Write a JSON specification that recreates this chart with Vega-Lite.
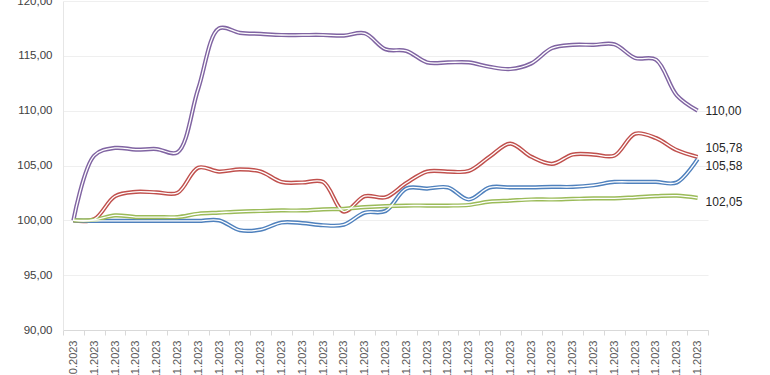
{
  "$schema": "https://vega.github.io/schema/vega-lite/v6.json",
  "width": 645,
  "height": 329,
  "autosize": {"type": "none"},
  "padding": {"left": 63, "top": 1, "right": 62, "bottom": 45},
  "background": "white",
  "config": {
    "locale": {"number": {"decimal": ",", "thousands": ".", "grouping": [3], "currency": ["", " €"]}},
    "view": {"stroke": null},
    "font": "Liberation Sans"
  },
  "datasets": {
    "d": [
      {"t": "31.10.2023", "s": "P", "v": 100.0}, {"t": "31.10.2023", "s": "R", "v": 100.0}, {"t": "31.10.2023", "s": "B", "v": 100.0}, {"t": "31.10.2023", "s": "G", "v": 100.0},
      {"t": "01.11.2023", "s": "P", "v": 105.9}, {"t": "01.11.2023", "s": "R", "v": 100.1}, {"t": "01.11.2023", "s": "B", "v": 99.95}, {"t": "01.11.2023", "s": "G", "v": 100.05},
      {"t": "02.11.2023", "s": "P", "v": 106.6}, {"t": "02.11.2023", "s": "R", "v": 102.2}, {"t": "02.11.2023", "s": "B", "v": 99.95}, {"t": "02.11.2023", "s": "G", "v": 100.45},
      {"t": "03.11.2023", "s": "P", "v": 106.45}, {"t": "03.11.2023", "s": "R", "v": 102.6}, {"t": "03.11.2023", "s": "B", "v": 99.95}, {"t": "03.11.2023", "s": "G", "v": 100.3},
      {"t": "04.11.2023", "s": "P", "v": 106.5}, {"t": "04.11.2023", "s": "R", "v": 102.55}, {"t": "04.11.2023", "s": "B", "v": 99.95}, {"t": "04.11.2023", "s": "G", "v": 100.3},
      {"t": "05.11.2023", "s": "P", "v": 106.2}, {"t": "05.11.2023", "s": "R", "v": 102.5}, {"t": "05.11.2023", "s": "B", "v": 99.95}, {"t": "05.11.2023", "s": "G", "v": 100.3},
      {"t": "06.11.2023", "s": "P", "v": 112.0}, {"t": "06.11.2023", "s": "R", "v": 104.8}, {"t": "06.11.2023", "s": "B", "v": 99.95}, {"t": "06.11.2023", "s": "G", "v": 100.6},
      {"t": "07.11.2023", "s": "P", "v": 117.5}, {"t": "07.11.2023", "s": "R", "v": 104.45}, {"t": "07.11.2023", "s": "B", "v": 100.0}, {"t": "07.11.2023", "s": "G", "v": 100.7},
      {"t": "08.11.2023", "s": "P", "v": 117.1}, {"t": "08.11.2023", "s": "R", "v": 104.65}, {"t": "08.11.2023", "s": "B", "v": 99.1}, {"t": "08.11.2023", "s": "G", "v": 100.8},
      {"t": "09.11.2023", "s": "P", "v": 117.0}, {"t": "09.11.2023", "s": "R", "v": 104.45}, {"t": "09.11.2023", "s": "B", "v": 99.15}, {"t": "09.11.2023", "s": "G", "v": 100.85},
      {"t": "10.11.2023", "s": "P", "v": 116.9}, {"t": "10.11.2023", "s": "R", "v": 103.5}, {"t": "10.11.2023", "s": "B", "v": 99.8}, {"t": "10.11.2023", "s": "G", "v": 100.9},
      {"t": "11.11.2023", "s": "P", "v": 116.9}, {"t": "11.11.2023", "s": "R", "v": 103.45}, {"t": "11.11.2023", "s": "B", "v": 99.75}, {"t": "11.11.2023", "s": "G", "v": 100.9},
      {"t": "12.11.2023", "s": "P", "v": 116.9}, {"t": "12.11.2023", "s": "R", "v": 103.5}, {"t": "12.11.2023", "s": "B", "v": 99.55}, {"t": "12.11.2023", "s": "G", "v": 101.0},
      {"t": "13.11.2023", "s": "P", "v": 116.85}, {"t": "13.11.2023", "s": "R", "v": 100.8}, {"t": "13.11.2023", "s": "B", "v": 99.6}, {"t": "13.11.2023", "s": "G", "v": 101.05},
      {"t": "14.11.2023", "s": "P", "v": 117.05}, {"t": "14.11.2023", "s": "R", "v": 102.2}, {"t": "14.11.2023", "s": "B", "v": 100.7}, {"t": "14.11.2023", "s": "G", "v": 101.2},
      {"t": "15.11.2023", "s": "P", "v": 115.6}, {"t": "15.11.2023", "s": "R", "v": 102.1}, {"t": "15.11.2023", "s": "B", "v": 100.85}, {"t": "15.11.2023", "s": "G", "v": 101.3},
      {"t": "16.11.2023", "s": "P", "v": 115.45}, {"t": "16.11.2023", "s": "R", "v": 103.4}, {"t": "16.11.2023", "s": "B", "v": 102.9}, {"t": "16.11.2023", "s": "G", "v": 101.35},
      {"t": "17.11.2023", "s": "P", "v": 114.4}, {"t": "17.11.2023", "s": "R", "v": 104.45}, {"t": "17.11.2023", "s": "B", "v": 102.9}, {"t": "17.11.2023", "s": "G", "v": 101.35},
      {"t": "18.11.2023", "s": "P", "v": 114.4}, {"t": "18.11.2023", "s": "R", "v": 104.45}, {"t": "18.11.2023", "s": "B", "v": 103.0}, {"t": "18.11.2023", "s": "G", "v": 101.35},
      {"t": "19.11.2023", "s": "P", "v": 114.4}, {"t": "19.11.2023", "s": "R", "v": 104.5}, {"t": "19.11.2023", "s": "B", "v": 101.9}, {"t": "19.11.2023", "s": "G", "v": 101.4},
      {"t": "20.11.2023", "s": "P", "v": 114.0}, {"t": "20.11.2023", "s": "R", "v": 105.8}, {"t": "20.11.2023", "s": "B", "v": 103.0}, {"t": "20.11.2023", "s": "G", "v": 101.7},
      {"t": "21.11.2023", "s": "P", "v": 113.8}, {"t": "21.11.2023", "s": "R", "v": 107.0}, {"t": "21.11.2023", "s": "B", "v": 103.0}, {"t": "21.11.2023", "s": "G", "v": 101.8},
      {"t": "22.11.2023", "s": "P", "v": 114.3}, {"t": "22.11.2023", "s": "R", "v": 105.8}, {"t": "22.11.2023", "s": "B", "v": 103.0}, {"t": "22.11.2023", "s": "G", "v": 101.9},
      {"t": "23.11.2023", "s": "P", "v": 115.7}, {"t": "23.11.2023", "s": "R", "v": 105.15}, {"t": "23.11.2023", "s": "B", "v": 103.05}, {"t": "23.11.2023", "s": "G", "v": 101.9},
      {"t": "24.11.2023", "s": "P", "v": 116.0}, {"t": "24.11.2023", "s": "R", "v": 106.0}, {"t": "24.11.2023", "s": "B", "v": 103.05}, {"t": "24.11.2023", "s": "G", "v": 101.95},
      {"t": "25.11.2023", "s": "P", "v": 116.0}, {"t": "25.11.2023", "s": "R", "v": 106.0}, {"t": "25.11.2023", "s": "B", "v": 103.2}, {"t": "25.11.2023", "s": "G", "v": 102.0},
      {"t": "26.11.2023", "s": "P", "v": 116.05}, {"t": "26.11.2023", "s": "R", "v": 105.9}, {"t": "26.11.2023", "s": "B", "v": 103.5}, {"t": "26.11.2023", "s": "G", "v": 102.0},
      {"t": "27.11.2023", "s": "P", "v": 114.8}, {"t": "27.11.2023", "s": "R", "v": 107.9}, {"t": "27.11.2023", "s": "B", "v": 103.5}, {"t": "27.11.2023", "s": "G", "v": 102.1},
      {"t": "28.11.2023", "s": "P", "v": 114.65}, {"t": "28.11.2023", "s": "R", "v": 107.5}, {"t": "28.11.2023", "s": "B", "v": 103.5}, {"t": "28.11.2023", "s": "G", "v": 102.2},
      {"t": "29.11.2023", "s": "P", "v": 111.4}, {"t": "29.11.2023", "s": "R", "v": 106.4}, {"t": "29.11.2023", "s": "B", "v": 103.45}, {"t": "29.11.2023", "s": "G", "v": 102.25},
      {"t": "30.11.2023", "s": "P", "v": 110.0}, {"t": "30.11.2023", "s": "R", "v": 105.78}, {"t": "30.11.2023", "s": "B", "v": 105.58}, {"t": "30.11.2023", "s": "G", "v": 102.05}
    ]
  },
  "data": {"name": "d"},
  "encoding": {
    "x": {
      "field": "t", "type": "ordinal", "sort": null, "title": null,
      "scale": {"paddingInner": 0, "paddingOuter": 0},
      "axis": {
        "labelAngle": -90, "labelFontSize": 11, "labelColor": "#595959",
        "domainColor": "#d9d9d9", "tickColor": "#d9d9d9", "tickSize": 5,
        "tickBand": "extent", "labelPadding": 5, "grid": false, "labelOverlap": false
      }
    },
    "y": {
      "field": "v", "type": "quantitative", "title": null,
      "scale": {"domain": [90, 120], "nice": false, "zero": false},
      "axis": {
        "values": [90, 95, 100, 105, 110, 115, 120], "format": ".2f",
        "labelFontSize": 11.5, "labelColor": "#404040", "labelPadding": 11,
        "ticks": false, "domainColor": "#e6e6e6", "gridColor": "#efefef", "gridWidth": 1
      }
    }
  },
  "layer": [
    {
      "mark": {"type": "line", "interpolate": "catmull-rom", "strokeWidth": 4.2},
      "encoding": {
        "color": {
          "field": "s", "type": "nominal", "legend": null,
          "scale": {"domain": ["P", "R", "B", "G"], "range": ["#8064A2", "#C0504D", "#4F81BD", "#9BBB59"]}
        }
      }
    },
    {
      "mark": {"type": "line", "interpolate": "catmull-rom", "strokeWidth": 1.3, "color": "white"},
      "encoding": {"detail": {"field": "s", "type": "nominal"}}
    },
    {
      "transform": [{"filter": "datum.t == '30.11.2023' && datum.s == 'P'"}],
      "mark": {"type": "text", "align": "left", "dx": 8, "dy": 0, "fontSize": 12, "color": "#262626"},
      "encoding": {"text": {"field": "v", "type": "quantitative", "format": ".2f"}}
    },
    {
      "transform": [{"filter": "datum.t == '30.11.2023' && datum.s == 'R'"}],
      "mark": {"type": "text", "align": "left", "dx": 8, "dy": -9, "fontSize": 12, "color": "#262626"},
      "encoding": {"text": {"field": "v", "type": "quantitative", "format": ".2f"}}
    },
    {
      "transform": [{"filter": "datum.t == '30.11.2023' && datum.s == 'B'"}],
      "mark": {"type": "text", "align": "left", "dx": 8, "dy": 7, "fontSize": 12, "color": "#262626"},
      "encoding": {"text": {"field": "v", "type": "quantitative", "format": ".2f"}}
    },
    {
      "transform": [{"filter": "datum.t == '30.11.2023' && datum.s == 'G'"}],
      "mark": {"type": "text", "align": "left", "dx": 8, "dy": 4, "fontSize": 12, "color": "#262626"},
      "encoding": {"text": {"field": "v", "type": "quantitative", "format": ".2f"}}
    }
  ]
}
